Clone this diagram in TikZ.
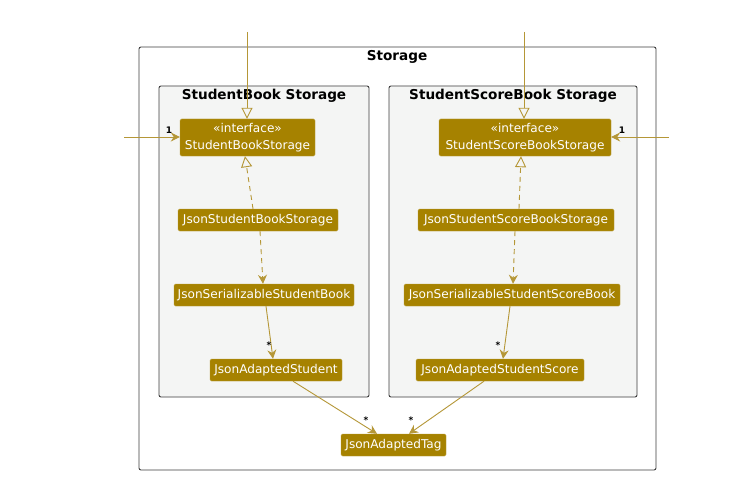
\documentclass[tikz,border=0pt]{standalone}
\usepackage{fontspec}
\setmainfont{DejaVu Sans}
\usetikzlibrary{arrows.meta}
\definecolor{gold}{RGB}{166,130,0}
\definecolor{lnk}{RGB}{181,151,55}
\definecolor{pkgfill}{RGB}{244,245,244}
\definecolor{frame}{RGB}{60,60,60}
\tikzset{
  cls/.style={fill=gold, draw=gold!80!white, rounded corners=1.5pt, text=white, inner sep=0pt, font=\fontsize{12.1}{16.5}\selectfont, align=center},
  pkg/.style={draw=frame, line width=0.9pt, rounded corners=2pt},
  ttl/.style={font=\fontsize{13.6}{15}\selectfont\bfseries, text=black},
  lk/.style={draw=lnk, line width=0.9pt},
  real/.style={lk, -{Triangle[open, length=11pt, width=11pt, fill=none]}},
  dep/.style={lk, dash pattern=on 5pt off 4pt, -{Stealth[length=9pt, width=9pt, inset=3pt]}},
  assoc/.style={lk, -{Stealth[length=9pt, width=9pt, inset=3pt]}},
  mult/.style={font=\fontsize{9}{10}\selectfont\bfseries, text=black, inner sep=0pt}
}
\begin{document}
\begin{tikzpicture}[x=1pt, y=-1pt]
\useasboundingbox (0,0) rectangle (730,500);
% outer storage box
\draw[pkg, fill=white] (139,47) rectangle (656,470);
\node[ttl] (tStorage) at (397,57) {Storage};
% packages
\draw[pkg, fill=pkgfill] (159,86) rectangle (369,397);
\node[ttl] (tSB) at (264,96) {StudentBook Storage};
\draw[pkg, fill=pkgfill] (389,86) rectangle (637,397);
\node[ttl] (tSSB) at (513,96) {StudentScoreBook Storage};

% classes left
\node[cls, minimum width=135pt, minimum height=37pt] (sbs) at (247.5,137.5) {«interface»\\StudentBookStorage};
\node[cls, minimum width=160pt, minimum height=22pt] (jsbs) at (258,220) {JsonStudentBookStorage};
\node[cls, minimum width=180pt, minimum height=22pt] (jssb) at (264,295) {JsonSerializableStudentBook};
\node[cls, minimum width=132pt, minimum height=22pt] (jas) at (276,370) {JsonAdaptedStudent};
% classes right
\node[cls, minimum width=172pt, minimum height=37pt] (ssbs) at (525,137.5) {«interface»\\StudentScoreBookStorage};
\node[cls, minimum width=196pt, minimum height=22pt] (jssbs) at (516,220) {JsonStudentScoreBookStorage};
\node[cls, minimum width=216pt, minimum height=22pt] (jsssb) at (512,295) {JsonSerializableStudentScoreBook};
\node[cls, minimum width=168pt, minimum height=22pt] (jass) at (500,370) {JsonAdaptedStudentScore};
% tag
\node[cls, minimum width=105pt, minimum height=22pt] (tag) at (393.5,445) {JsonAdaptedTag};

% free ends
\coordinate (topL) at (247,32);
\coordinate (topR) at (524,32);
\coordinate (sideL) at (124,137);
\coordinate (sideR) at (669,137);

% connectors
\draw[real] (topL) -- (sbs.north -| topL);
\draw[real] (topR) -- (ssbs.north -| topR);
\draw[assoc] (sideL) -- (sbs.west |- sideL);
\draw[assoc] (sideR) -- (ssbs.east |- sideR);
\node[mult] (m1) at (169,130) {1};
\node[mult] (m2) at (622,130) {1};

\draw[real, dash pattern=on 5pt off 4pt] ([xshift=-5pt]jsbs.north) -- ([xshift=-2.5pt]sbs.south);
\draw[dep] ([xshift=2pt]jsbs.south) -- ([xshift=-1pt]jssb.north);
\draw[assoc] ([xshift=2pt]jssb.south) -- ([xshift=-3pt]jas.north);
\node[mult] (m3) at (269,345) {*};

\draw[real, dash pattern=on 5pt off 4pt] ([xshift=3pt]jssbs.north) -- ([xshift=-4pt]ssbs.south);
\draw[dep] ([xshift=-1pt]jssbs.south) -- ([xshift=1pt]jsssb.north);
\draw[assoc] ([xshift=-2pt]jsssb.south) -- ([xshift=3pt]jass.north);
\node[mult] (m4) at (498,345) {*};

\draw[assoc] ([xshift=17pt]jas.south) -- ([xshift=-16.5pt]tag.north);
\draw[assoc] ([xshift=-16pt]jass.south) -- ([xshift=15.5pt]tag.north);
\node[mult] (m5) at (366,420) {*};
\node[mult] (m6) at (411,420) {*};
\end{tikzpicture}
\end{document}
